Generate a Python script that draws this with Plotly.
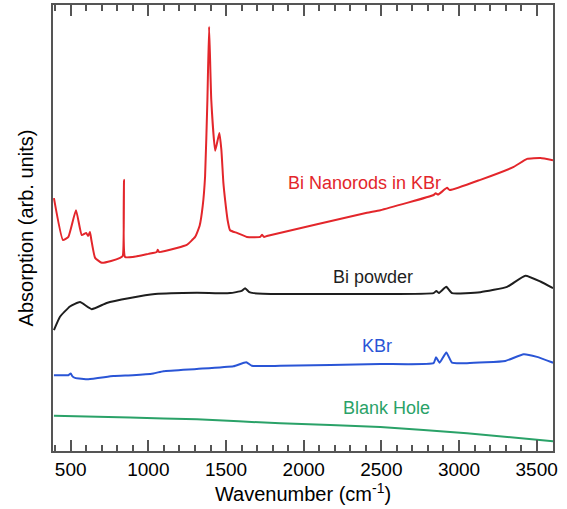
import plotly.graph_objects as go

# Wavenumber (cm^-1) and absorption (arb. units, offset traces)
nano_wn = [392, 450, 485, 534, 571, 600, 612, 624, 633, 657, 700, 760, 818, 835, 843, 850, 900,
           1000, 1054, 1060, 1070, 1183, 1247, 1301, 1330, 1350, 1365, 1380, 1391, 1405, 1430, 1457,
           1470, 1483, 1494, 1510, 1526, 1570, 1634, 1720, 1731, 1745, 1763, 2407, 2493, 2837,
           2850, 2865, 2923, 2940, 3137, 3352, 3438, 3524, 3605]
nano_abs = [56.7, 47.3, 48.0, 54.0, 48.4, 48.9, 48.2, 49.1, 47.3, 43.3, 42.2, 42.6, 43.3, 43.7, 60.8,
            43.5, 43.5, 44.2, 44.6, 45.1, 44.6, 45.5, 46.2, 48.0, 50.5, 55.0, 61.5, 78.7, 95.1, 78.7,
            67.3, 71.3, 67.5, 60.1, 56.3, 51.8, 49.5, 48.9, 48.0, 48.0, 48.5, 48.0, 48.2, 53.4,
            54.0, 57.4, 57.8, 57.5, 59.0, 58.5, 60.8, 63.7, 65.5, 65.7, 65.2]

powder_wn = [392, 431, 495, 560, 635, 732, 882, 1043, 1312, 1526, 1600, 1623, 1650, 1677, 1849,
             2493, 2836, 2854, 2870, 2918, 2955, 3137, 3309, 3427, 3524, 3605]
powder_abs = [27.1, 30.1, 32.4, 33.4, 31.8, 33.2, 34.3, 35.2, 35.5, 35.4, 35.9, 36.5, 35.6, 35.4,
              35.2, 35.2, 35.4, 35.9, 35.4, 36.8, 35.4, 35.6, 36.8, 39.3, 38.0, 36.5]

kbr_wn = [392, 485, 500, 510, 528, 614, 775, 900, 1032, 1097, 1312, 1548, 1630, 1666, 1849, 2493,
          2836, 2852, 2875, 2918, 2955, 3051, 3298, 3416, 3502, 3605]
kbr_abs = [17.0, 17.0, 17.4, 16.8, 16.4, 16.1, 16.8, 17.0, 17.4, 17.9, 18.4, 19.0, 19.9, 19.1,
           19.1, 19.5, 19.7, 21.0, 19.8, 22.1, 19.8, 19.7, 20.2, 21.7, 21.1, 19.8]

blank_wn = [392, 882, 1312, 1849, 2493, 3051, 3605]
blank_abs = [7.9, 7.5, 7.1, 6.2, 5.4, 4.0, 2.2]

labels = ["Bi Nanorods in KBr", "Bi powder", "KBr", "Blank Hole"]
label_wn = [2390, 2448, 2473, 2531]
label_abs = [60.1, 39.0, 23.5, 9.6]
colors = ["#e3262b", "#1e1e1e", "#2a55d6", "#2aa268"]

FONT = "Arial, Liberation Sans, sans-serif"

fig = go.Figure()
series = [(nano_wn, nano_abs), (powder_wn, powder_abs), (kbr_wn, kbr_abs), (blank_wn, blank_abs)]
for (xs, ys), c, name in zip(series, colors, labels):
    fig.add_trace(go.Scatter(x=xs, y=ys, mode="lines", name=name,
                             line=dict(color=c, width=2, shape="spline", smoothing=0.4),
                             showlegend=False))

for t, x, y, c in zip(labels, label_wn, label_abs, colors):
    fig.add_annotation(x=x, y=y, text=t, showarrow=False,
                       font=dict(family=FONT, size=18, color=c))

fig.update_layout(
    width=567, height=509,
    margin=dict(l=53, r=14, t=5, b=58, autoexpand=False),
    paper_bgcolor="white", plot_bgcolor="white",
    font=dict(family=FONT, color="black"),
)
fig.update_xaxes(
    range=[386, 3605], tick0=500, dtick=500, automargin=False,
    showline=True, linecolor="#555555", linewidth=2, mirror="allticks",
    ticks="inside", ticklen=11, tickwidth=1.5, tickcolor="#555555",
    minor=dict(dtick=100, ticks="inside", ticklen=6, tickwidth=1.5, tickcolor="#555555"),
    showgrid=False, zeroline=False,
    tickfont=dict(family=FONT, size=19, color="black"),
    title=dict(text="Wavenumber (cm<sup>-1</sup>)", font=dict(family=FONT, size=20, color="black"),
               standoff=4),
)
fig.update_yaxes(
    range=[0, 100], showline=True, linecolor="#555555", linewidth=2, mirror=True,
    automargin=False,
    ticks="", showticklabels=False, showgrid=False, zeroline=False,
    title=dict(text="Absorption (arb. units)", font=dict(family=FONT, size=20, color="black"),
               standoff=12),
)

fig.write_html("out.html", config={"displayModeBar": False},
               post_script="document.body.style.margin='0';")
